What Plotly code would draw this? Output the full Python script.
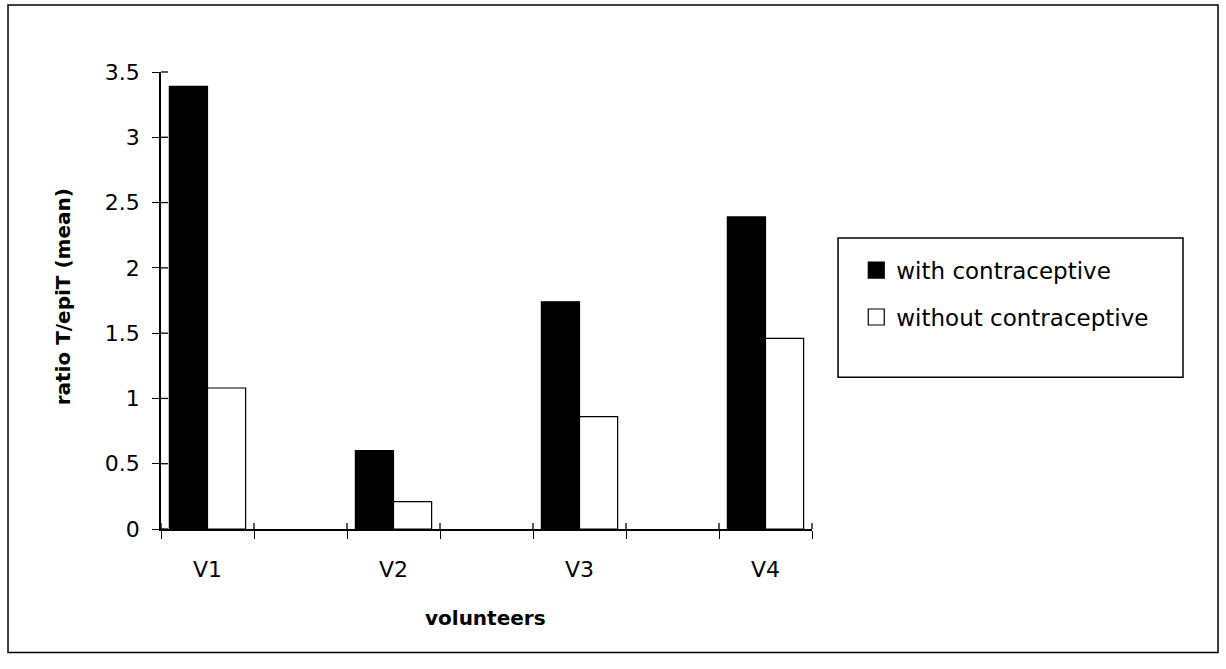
import plotly.graph_objects as go

# Volunteer groups; the unnamed slots are the empty spacer categories between them
categories = ["V1", " ", "V2", "  ", "V3", "   ", "V4"]
with_contraceptive = [3.39, None, 0.60, None, 1.74, None, 2.39]
without_contraceptive = [1.08, None, 0.21, None, 0.86, None, 1.46]
series_names = ["with contraceptive", "without contraceptive"]
y_ticks = [0, 0.5, 1, 1.5, 2, 2.5, 3, 3.5]
y_tick_text = ["0", "0.5", "1", "1.5", "2", "2.5", "3", "3.5"]

FONT = "DejaVu Sans"
fills = ["black", "white"]

# figure and plot-area geometry (pixels)
WIDTH, HEIGHT = 1226, 669
M_L, M_R, M_T, M_B = 161, 414, 72, 140
PLOT_W = WIDTH - M_L - M_R
PLOT_H = HEIGHT - M_T - M_B
Y_MAX = 3.5

fig = go.Figure()
for name, values, fill in zip(series_names, [with_contraceptive, without_contraceptive], fills):
    fig.add_trace(go.Bar(
        x=categories, y=values, name=name,
        marker=dict(color=fill, line=dict(color="black", width=1.2)),
        legendgroup=name, showlegend=False,
    ))
# legend keys: square swatches larger than the default bar icons
for name, fill in zip(series_names, fills):
    fig.add_trace(go.Scatter(
        x=[None], y=[None], name=name, mode="markers", legendgroup=name,
        marker=dict(symbol="square", size=20, color=fill,
                    line=dict(color="black", width=1.2)),
        hoverinfo="skip",
    ))

n = len(categories)
boundaries = [i - 0.5 for i in range(n + 1)]

fig.update_layout(
    width=WIDTH, height=HEIGHT,
    margin=dict(l=M_L, r=M_R, t=M_T, b=M_B),
    paper_bgcolor="white", plot_bgcolor="white",
    barmode="group", bargap=0.18, bargroupgap=0,
    font=dict(family=FONT, size=22, color="black"),
    xaxis=dict(
        type="category", categoryorder="array", categoryarray=categories,
        range=[-0.5, n - 0.5],
        showline=True, linecolor="black", linewidth=1.5,
        ticks="outside", ticklen=8, tickwidth=1.2, tickcolor="black",
        tickson="boundaries", showgrid=False, zeroline=False,
        ticklabelstandoff=20,
        tickfont=dict(family=FONT, size=22),
    ),
    yaxis=dict(
        range=[0, Y_MAX], tickvals=y_ticks, ticktext=y_tick_text,
        showline=True, linecolor="black", linewidth=1.5,
        ticks="outside", ticklen=7, tickwidth=1.2, tickcolor="black",
        showgrid=False, zeroline=False, ticklabelstandoff=8,
        tickfont=dict(family=FONT, size=22),
    ),
    legend=dict(
        x=1.068, xanchor="left", y=0.515, yanchor="middle",
        bgcolor="rgba(0,0,0,0)", borderwidth=0,
        font=dict(family=FONT, size=23),
        tracegroupgap=14, traceorder="grouped",
    ),
    showlegend=True,
)

# inner halves of the crossing tick marks, placed in paper units
tick_line = dict(color="black", width=1.3)
for b in boundaries:
    xp = (b + 0.5) / n
    fig.add_shape(type="line", xref="paper", yref="paper", x0=xp, x1=xp,
                  y0=0, y1=6 / PLOT_H, line=tick_line)
for v in y_ticks:
    yp = v / Y_MAX
    fig.add_shape(type="line", xref="paper", yref="paper", x0=0, x1=7 / PLOT_W,
                  y0=yp, y1=yp, line=tick_line)

# axis titles
fig.add_annotation(text="<b>ratio T/epiT (mean)</b>", xref="paper", yref="paper",
                   x=-0.1505, y=0.507, textangle=-90, showarrow=False,
                   font=dict(family=FONT, size=20), xanchor="center", yanchor="middle")
fig.add_annotation(text="<b>volunteers</b>", xref="paper", yref="paper",
                   x=0.4977, y=-0.1955, showarrow=False,
                   font=dict(family=FONT, size=20), xanchor="center", yanchor="middle")

# outer chart frame and legend frame
fig.add_shape(type="rect", xref="paper", yref="paper",
              x0=-0.235, x1=1.6237, y0=-0.27, y1=1.1467,
              line=dict(color="black", width=1.5), fillcolor="rgba(0,0,0,0)")
fig.add_shape(type="rect", xref="paper", yref="paper",
              x0=1.04, x1=1.5699, y0=0.3322, y1=0.6365,
              line=dict(color="black", width=1.5), fillcolor="rgba(0,0,0,0)")

fig.write_html("out.html")
